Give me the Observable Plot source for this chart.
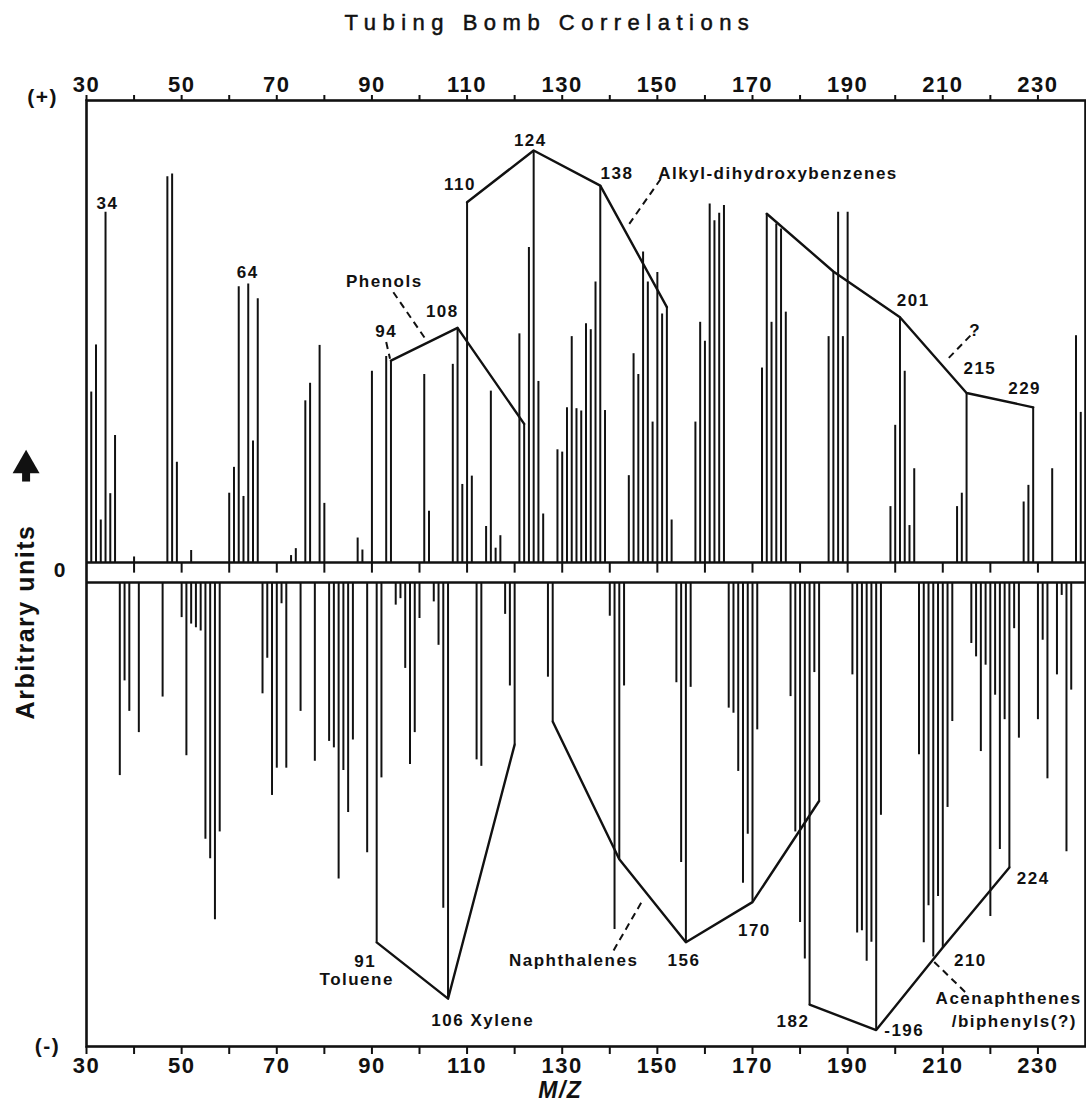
<!DOCTYPE html>
<html><head><meta charset="utf-8">
<script src="https://cdn.jsdelivr.net/npm/d3@7"></script>
<script src="https://cdn.jsdelivr.net/npm/@observablehq/plot@0.6"></script>
<style>
html,body{margin:0;padding:0;background:#fff;overflow:hidden}
#title{height:50px;width:1086px;text-align:center;font:400 22px "Liberation Sans",Arial,sans-serif;letter-spacing:6.5px;line-height:46px;color:#111;text-indent:14px;-webkit-text-stroke:0.5px #111}
#chart svg{display:block}
</style></head><body>
<div id="title">Tubing Bomb Correlations</div>
<div id="chart"></div>
<script>
// ---- data (arbitrary units, 0-100 of each half) ----
const posMZ = [31,32,33,34,35,36,40,47,48,49,52,60,61,62,63,64,65,66,73,74,76,77,79,80,87,88,90,93,94,101,102,107,108,109,110,111,114,115,116,117,121,122,123,124,125,126,129,130,131,132,133,134,135,136,137,138,139,144,145,146,147,148,149,150,151,152,153,158,159,160,161,162,163,164,172,173,174,175,176,177,186,187,188,189,190,199,200,201,202,203,204,213,214,215,227,228,229,233,238,239];
const posV  = [36.9,47.1,9.2,75.8,14.9,27.5,1.2,83.5,84.1,21.7,2.6,15,20.6,59.7,14.3,60.3,26.3,57.1,1.5,3,35,38.8,47,12.8,5.3,2.7,41.4,44.6,43.7,40.7,11.1,42.9,50.8,16.9,78,18.7,7.8,37.1,3.1,5.8,49.5,30,68.2,89.2,39.2,10.5,24.4,23.9,33.5,48.9,33.3,32.8,51.7,50.4,60.7,81.6,32.9,18.8,45.2,40.7,67.2,60.7,30.4,62.8,53.8,55.3,9.2,30.4,52,47.9,77.6,74,75.6,77.3,42.1,75.5,52,73.3,72.2,54.2,48.9,63,75.8,48.9,75.8,12.1,29.7,53.1,41.4,8,20.3,12.1,15,36.7,13.1,16.7,33.6,20.3,49.1,32.5];
const negMZ = [37,38,39,41,46,50,51,52,53,54,55,56,57,58,67,68,69,70,71,72,75,78,81,82,83,84,85,86,89,91,92,95,96,97,98,99,100,103,104,105,106,112,113,118,119,120,127,128,140,141,142,143,154,155,156,157,165,166,167,168,169,170,171,178,179,180,181,182,183,184,191,192,193,194,195,196,197,205,206,207,208,209,210,211,212,216,217,218,219,220,221,222,223,224,225,226,230,231,232,234,235,236,237];
const negV  = [41.8,21.3,27.9,32.5,24.8,7.6,37.5,9,9.8,10.5,55.6,59.8,73,54,24.1,16.4,46.1,40.2,4.6,40.2,27.9,38.7,34.4,35.8,64.2,40.7,49.8,34.1,58.5,77.9,42.3,4.9,3.5,18.6,39.4,32.5,7.8,4.2,13.6,70.5,90.1,38.4,39.8,6.9,22.4,35.1,20.5,30.1,7.3,75.1,59.9,22.4,21.7,60.6,77.9,22.7,27.2,28.3,40.9,65.1,54.5,69.2,31.9,24.7,54,73.6,81.5,91.4,19.5,47.3,20,75.9,75.4,82,77.9,96.9,50.4,37.3,78,70,81.1,68,79,48.7,30.1,13.2,16.1,36.6,17.9,72.3,24.4,57.8,29.7,61.7,10,33.7,29.7,12.5,42.5,20,2.8,58.3,23.3];
// homologous series traced through the spectrum (m/z of the joined peaks)
const phenols   = [94,108,122];
const alkylDihydroxy = [110,124,138,152];
const unknownSeries  = [173,187,201,215,229];
const tolueneXylene  = [91,106,120];
const naphthalenes   = [128,142,156,170,184];
const acenaphthenes  = [182,196,210,224];
const xTicks = d3.range(30, 240, 10);
const xLabels = d3.range(30, 240, 20);

// ---- layout ----
const GP = 11/4.62, GN = 9/4.62;   // half-gap of the zero band
const pos = posMZ.map((m,i)=>({mz:m, v:posV[i]}));
const neg = negMZ.map((m,i)=>({mz:m, v:negV[i]}));
const pv = m => pos.find(d=>d.mz===m).v;
const nv = m => neg.find(d=>d.mz===m).v;
const posLines = [["ph",phenols],["al",alkylDihydroxy],["un",unknownSeries]]
  .flatMap(([s,a])=>a.map(m=>({s, mz:m, y:GP+pv(m)})));
const negLines = [["tx",tolueneXylene],["na",naphthalenes],["ac",acenaphthenes]]
  .flatMap(([s,a])=>a.map(m=>({s, mz:m, y:-GN-nv(m)})));

const labels = [
  {x:34.4,y:80.1,t:"34"},{x:63.9,y:65.2,t:"64"},{x:92.6,y:63.1,t:"Phenols"},
  {x:93.0,y:52.4,t:"94"},{x:104.8,y:56.7,t:"108"},{x:108.5,y:84.3,t:"110"},
  {x:123.3,y:93.7,t:"124"},{x:141.5,y:86.5,t:"138"},
  {x:203.8,y:59.2,t:"201"},{x:216.8,y:52.6,t:"?"},{x:217.8,y:44.3,t:"215"},{x:227.2,y:40,t:"229"},
  {x:88.6,y:-84.1,t:"91"},{x:86.8,y:-88,t:"Toluene"},{x:113.3,y:-96.8,t:"106 Xylene"},
  {x:132.4,y:-83.8,t:"Naphthalenes"},{x:155.6,y:-83.8,t:"156"},{x:170.4,y:-77.4,t:"170"},
  {x:178.5,y:-96.9,t:"182"},{x:201.9,y:-98.9,t:"-196"},{x:215.8,y:-83.8,t:"210"},
  {x:229,y:-66.1,t:"224"}
];
const labelsStart = [{x:150.2,y:86.5,t:"Alkyl-dihydroxybenzenes"}];
const labelsEnd = [{x:239.2,y:-92.1,t:"Acenaphthenes"},{x:238.2,y:-97.1,t:"/biphenyls(?)"}];
const leaders = [
  {x1:94.5,y1:60.9,x2:101.5,y2:50.4},{x1:93.0,y1:50.1,x2:93.8,y2:46.5},
  {x1:150.7,y1:85.4,x2:144.1,y2:75.7},{x1:215.8,y1:51.5,x2:211.1,y2:46.5},
  {x1:140.8,y1:-81.6,x2:146.7,y2:-71.1},{x1:208.2,y1:-84.1,x2:215.1,y2:-91}
];
const side = [
  {x:20.8,y:103,t:"(+)"},{x:21.8,y:-102.4,t:"(-)"},{x:24.5,y:0.6,t:"0"}
];
const ink = "#111";
const fmt = d => xLabels.includes(d) ? String(d) : "";
const lab = {fontSize:17, fontWeight:"bold", fill:ink};

const chart = Plot.plot({
  width:1086, height:1053,
  marginLeft:86, marginRight:1, marginTop:50, marginBottom:57,
  style:{fontFamily:'"Liberation Sans", Arial, sans-serif', color:ink, background:"#fff", overflow:"visible"},
  x:{domain:[30,240], axis:null},
  y:{domain:[-102.4,102.4], axis:null},
  marks:[
    Plot.ruleX(pos,{x:"mz", y1:GP, y2:d=>GP+d.v, stroke:ink, strokeWidth:2}),
    Plot.ruleX(neg,{x:"mz", y1:-GN, y2:d=>-GN-d.v, stroke:ink, strokeWidth:2}),
    Plot.line(posLines,{x:"mz", y:"y", z:"s", stroke:ink, strokeWidth:2.4}),
    Plot.line(negLines,{x:"mz", y:"y", z:"s", stroke:ink, strokeWidth:2.4}),
    Plot.ruleY([GP,-GN],{stroke:ink, strokeWidth:2.6}),
    Plot.ruleX(xTicks.slice(1),{x:d=>d, y1:GP, y2:GP-2.3, stroke:ink, strokeWidth:2}),
    Plot.link(leaders,{x1:"x1",y1:"y1",x2:"x2",y2:"y2", stroke:ink, strokeWidth:2, strokeDasharray:"7,5"}),
    Plot.frame({stroke:ink, strokeWidth:2.6}),
    Plot.axisX({anchor:"top", ticks:xTicks, tickFormat:fmt, tickSize:6, tickPadding:3, fontSize:22, fontWeight:"bold", stroke:ink, strokeWidth:2, label:null}),
    Plot.axisX({anchor:"bottom", ticks:xTicks, tickFormat:fmt, tickSize:8, tickPadding:3, fontSize:22, fontWeight:"bold", stroke:ink, strokeWidth:2, label:null}),
    Plot.text(labels,{x:"x", y:"y", text:"t", ...lab}),
    Plot.text(labelsStart,{x:"x", y:"y", text:"t", textAnchor:"start", ...lab}),
    Plot.text(labelsEnd,{x:"x", y:"y", text:"t", textAnchor:"end", ...lab}),
    Plot.text(side,{x:"x", y:"y", text:"t", fontSize:21, fontWeight:"bold", fill:ink}),
    Plot.text(["Arbitrary units"],{x:17.3, y:-10.5, text:d=>d, rotate:-90, fontSize:25, fontWeight:"bold", fill:ink}),
    Plot.dot([0],{x:17.3, y:23.4, symbol:"triangle", r:10, fill:ink, stroke:null}),
    Plot.ruleX([0],{x:17.3, y1:19.8, y2:22.2, stroke:ink, strokeWidth:8}),
    Plot.text(["M/Z"],{x:129.6, y:-111.9, text:d=>d, fontSize:23, fontWeight:"bold", fontStyle:"italic", fill:ink})
  ]
});
chart.style.letterSpacing = "1.5px";
document.getElementById("chart").appendChild(chart);
</script>
</body></html>
